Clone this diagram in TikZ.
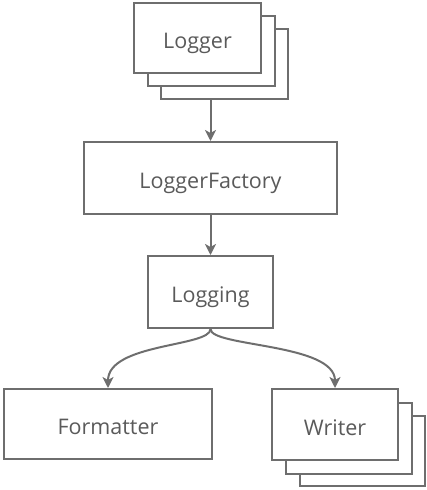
\documentclass[tikz,border=0pt]{standalone}
\usepackage{fontspec}
\setmainfont{Open Sans}
\usetikzlibrary{arrows.meta}
\definecolor{boxline}{HTML}{6E6E6E}
\definecolor{boxtext}{HTML}{5A5A5A}
\tikzset{
  umlbox/.style={draw=boxline,line width=2pt,fill=white,rectangle,inner sep=0pt,
    text height=21pt,text depth=0pt,
    font=\fontsize{21.5}{25}\selectfont,text=boxtext},
  link/.style={draw=boxline,line width=2pt,-{Stealth[length=11pt,width=11pt,inset=3pt]}}
}
\begin{document}
\begin{tikzpicture}[x=1pt,y=-1pt]
\useasboundingbox (0,0) rectangle (426,490);

% Logger stack
\node[umlbox,minimum width=127pt,minimum height=70pt] (logger3) at (224,64) {};
\node[umlbox,minimum width=127pt,minimum height=70pt] (logger2) at (211,51) {};
\node[umlbox,minimum width=127pt,minimum height=70pt] (logger) at (197.5,38) {Logger};

\node[umlbox,minimum width=253pt,minimum height=72pt] (factory) at (210.5,178) {LoggerFactory};
\node[umlbox,minimum width=125pt,minimum height=72pt] (logging) at (210.5,292) {Logging};
\node[umlbox,minimum width=208pt,minimum height=70pt] (formatter) at (108,424) {Formatter};

% Writer stack
\node[umlbox,minimum width=125pt,minimum height=70pt] (writer3) at (362,451) {};
\node[umlbox,minimum width=126pt,minimum height=71pt] (writer2) at (349,438) {};
\node[umlbox,minimum width=126pt,minimum height=71pt] (writer) at (335,424.5) {Writer};

\draw[link] (logger3.south -| factory.north) -- (factory.north);
\draw[link] (factory.south) -- (logging.north);
\draw[link] (logging.south) .. controls ([yshift=-18pt]logging.south) and ([yshift=45pt]formatter.north) .. (formatter.north);
\draw[link] (logging.south) .. controls ([yshift=-18pt]logging.south) and ([yshift=45pt]writer.north) .. (writer.north);

\end{tikzpicture}
\end{document}
